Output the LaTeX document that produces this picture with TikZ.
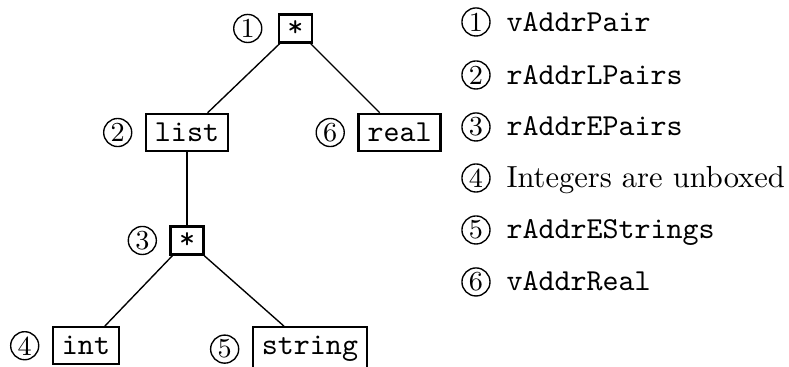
\documentclass[tikz,border=0pt]{standalone}
\usetikzlibrary{positioning}

\begin{document}
\begin{tikzpicture}

\tikzstyle{box}=[rectangle, draw, line width=0.8pt, inner sep=3pt, font=\ttfamily]
\tikzstyle{pair}=[box, inner xsep=2.8pt, inner ysep=2pt]
\tikzstyle{num}=[circle, draw, line width=0.45pt, minimum size=9.2pt, inner sep=0pt, font=\small]
\tikzstyle{note}=[inner sep=0pt]
\tikzstyle{branch}=[line width=0.45pt]

\useasboundingbox (0,0) rectangle (9.092,4.229);

% the type tree
\node[pair] (pair1) at (3.405, 3.901) {*};
\node[box] (list)  at (2.155, 2.702) {list};
\node[box] (real)  at (4.604, 2.702) {real};
\node[pair] (pair2) at (2.155, 1.458) {*};
\node[box, anchor=north] (int)    at (0.991, 0.472) {int};
\node[box, anchor=north] (string) at (3.572, 0.472) {string};

\node[num, left=5pt of pair1] (num1) {1};
\node[num, left=4pt of list]  (num2) {2};
\node[num, left=4pt of pair2] (num3) {3};
\node[num, left=4pt of int]   (num4) {4};
\node[num, left=4pt of string] (num5) {5};
\node[num, left=4pt of real]  (num6) {6};

\draw[branch] (pair1) -- (list);
\draw[branch] (pair1) -- (real);
\draw[branch] (list) -- (pair2);
\draw[branch] (pair2) -- (int);
\draw[branch] (pair2) -- (string);

% the legend
\node[num] (key1) at (5.485, 3.976) {1};
\node[num] (key2) at (5.485, 3.365) {2};
\node[num] (key3) at (5.485, 2.766) {3};
\node[num] (key4) at (5.485, 2.178) {4};
\node[num] (key5) at (5.485, 1.579) {5};
\node[num] (key6) at (5.485, 0.980) {6};

\node[note, base right=5pt of key1] (text1) {\texttt{vAddrPair}};
\node[note, base right=5pt of key2] (text2) {\texttt{rAddrLPairs}};
\node[note, base right=5pt of key3] (text3) {\texttt{rAddrEPairs}};
\node[note, base right=5pt of key4] (text4) {Integers are unboxed};
\node[note, base right=5pt of key5] (text5) {\texttt{rAddrEStrings}};
\node[note, base right=5pt of key6] (text6) {\texttt{vAddrReal}};

\end{tikzpicture}
\end{document}
